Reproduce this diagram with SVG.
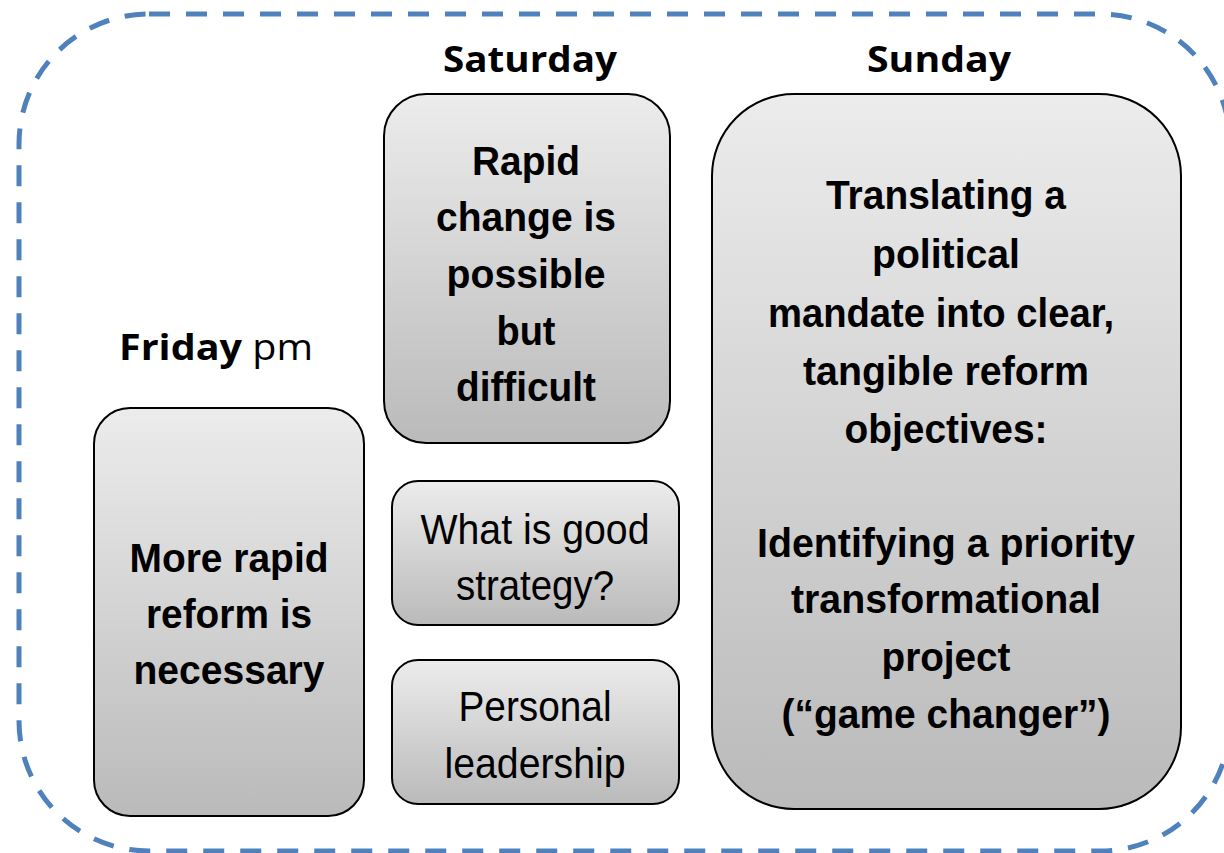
<svg xmlns="http://www.w3.org/2000/svg" width="1224" height="853" viewBox="0 0 1224 853">
<defs>
<linearGradient id="g" x1="0" y1="0" x2="0" y2="1">
<stop offset="0" stop-color="#ececec"/>
<stop offset="1" stop-color="#bababa"/>
</linearGradient>
<style>
.box{fill:url(#g);stroke:#000;stroke-width:2}
.nb{font-family:"Liberation Sans Narrow","Liberation Sans",Arial,sans-serif;font-weight:bold;font-size:40px;fill:#000;text-anchor:middle}
.nr{font-family:"Liberation Sans Narrow","Liberation Sans",Arial,sans-serif;font-weight:normal;font-size:43px;fill:#000;text-anchor:middle}
.hd{font-family:"Open Sans","Noto Sans",sans-serif;font-size:36px;fill:#000}
</style>
</defs>
<rect x="19" y="14" width="1211" height="837" rx="130" ry="130" fill="none" stroke="#4F81BD" stroke-width="5" stroke-dasharray="21 16"/>
<g id="headers">
<text class="hd" x="530" y="72" text-anchor="middle" font-weight="bold" textLength="174" lengthAdjust="spacingAndGlyphs">Saturday</text>
<text class="hd" x="939" y="72" text-anchor="middle" font-weight="bold" textLength="144" lengthAdjust="spacingAndGlyphs">Sunday</text>
<text class="hd" x="119" y="360" textLength="194" lengthAdjust="spacingAndGlyphs"><tspan font-weight="bold">Friday</tspan><tspan> pm</tspan></text>
</g>
<g id="friday">
<rect class="box" x="94" y="408" width="270" height="408" rx="36"/>
<text class="nb" x="229" y="572" textLength="199" lengthAdjust="spacingAndGlyphs">More rapid</text>
<text class="nb" x="229" y="628" textLength="166" lengthAdjust="spacingAndGlyphs">reform is</text>
<text class="nb" x="229" y="684" textLength="191" lengthAdjust="spacingAndGlyphs">necessary</text>
</g>
<g id="saturday-main">
<rect class="box" x="384" y="94" width="286" height="349" rx="42"/>
<text class="nb" x="526" y="175" textLength="108" lengthAdjust="spacingAndGlyphs">Rapid</text>
<text class="nb" x="526" y="231" textLength="180" lengthAdjust="spacingAndGlyphs">change is</text>
<text class="nb" x="526" y="288" textLength="159" lengthAdjust="spacingAndGlyphs">possible</text>
<text class="nb" x="526" y="345" textLength="59" lengthAdjust="spacingAndGlyphs">but</text>
<text class="nb" x="526" y="401" textLength="140" lengthAdjust="spacingAndGlyphs">difficult</text>
</g>
<g id="strategy">
<rect class="box" x="392" y="481" width="287" height="144" rx="26"/>
<text class="nr" x="535" y="544" textLength="229" lengthAdjust="spacingAndGlyphs">What is good</text>
<text class="nr" x="535" y="600" textLength="158" lengthAdjust="spacingAndGlyphs">strategy?</text>
</g>
<g id="leadership">
<rect class="box" x="392" y="660" width="287" height="144" rx="26"/>
<text class="nr" x="535" y="721" textLength="153" lengthAdjust="spacingAndGlyphs">Personal</text>
<text class="nr" x="535" y="778" textLength="181" lengthAdjust="spacingAndGlyphs">leadership</text>
</g>
<g id="sunday">
<rect class="box" x="712" y="94" width="469" height="715" rx="82"/>
<text class="nb" x="946" y="209" textLength="240" lengthAdjust="spacingAndGlyphs">Translating a</text>
<text class="nb" x="946" y="268" textLength="148" lengthAdjust="spacingAndGlyphs">political</text>
<text class="nb" x="941" y="327" textLength="346" lengthAdjust="spacingAndGlyphs">mandate into clear,</text>
<text class="nb" x="946" y="385" textLength="286" lengthAdjust="spacingAndGlyphs">tangible reform</text>
<text class="nb" x="946" y="443" textLength="203" lengthAdjust="spacingAndGlyphs">objectives:</text>
<text class="nb" x="946" y="557" textLength="378" lengthAdjust="spacingAndGlyphs">Identifying a priority</text>
<text class="nb" x="946" y="613" textLength="310" lengthAdjust="spacingAndGlyphs">transformational</text>
<text class="nb" x="946" y="671" textLength="129" lengthAdjust="spacingAndGlyphs">project</text>
<text class="nb" x="946" y="728" textLength="329" lengthAdjust="spacingAndGlyphs">(“game changer”)</text>
</g>
<g id="connectors"/>
</svg>
